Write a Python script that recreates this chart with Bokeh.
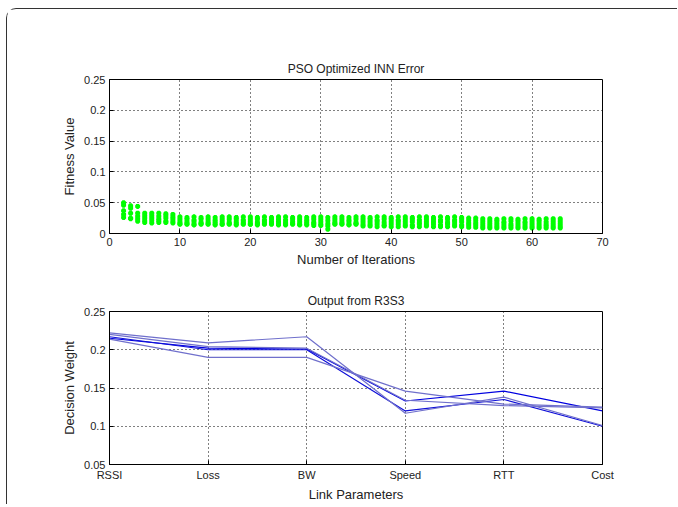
from bokeh.plotting import figure
from bokeh.layouts import column
from bokeh.models import FixedTicker, ColumnDataSource
from bokeh.embed import file_html
from bokeh.resources import INLINE

# ---------------- data ----------------
iterations = list(range(2, 65))

particle_1 = [0.050, 0.045, 0.044,
              0.033, 0.033, 0.033, 0.032, 0.031,
              0.027, 0.026, 0.027, 0.026, 0.027, 0.026, 0.027, 0.027, 0.026, 0.027, 0.027,
              0.026, 0.027, 0.026, 0.027, 0.027, 0.026, 0.027, 0.026, 0.027, 0.027,
              0.026,
              0.027, 0.027, 0.026, 0.027,
              0.027, 0.026, 0.027, 0.027, 0.026, 0.027, 0.027, 0.026, 0.027, 0.027,
              0.026, 0.027, 0.026, 0.027, 0.026, 0.025, 0.025,
              0.024, 0.024, 0.023, 0.024, 0.024, 0.023, 0.024, 0.024, 0.023, 0.024, 0.024, 0.024]
particle_2 = [0.046, 0.041, 0.033,
              0.029, 0.029, 0.028, 0.029, 0.027,
              0.023, 0.023, 0.022, 0.023, 0.023, 0.022, 0.023, 0.023, 0.023, 0.022, 0.023,
              0.023, 0.022, 0.023, 0.023, 0.022, 0.023, 0.023, 0.022, 0.023, 0.023,
              0.021,
              0.023, 0.023, 0.022, 0.023,
              0.023, 0.023, 0.022, 0.023, 0.023, 0.022, 0.023, 0.023, 0.022, 0.023,
              0.023, 0.022, 0.023, 0.022, 0.023, 0.021, 0.021,
              0.020, 0.020, 0.020, 0.019, 0.020, 0.020, 0.019, 0.020, 0.020, 0.019, 0.020, 0.020]
particle_3 = [0.037, 0.033, 0.028,
              0.025, 0.025, 0.024, 0.025, 0.024,
              0.019, 0.019, 0.019, 0.018, 0.019, 0.019, 0.019, 0.018, 0.019, 0.019, 0.019,
              0.018, 0.019, 0.019, 0.019, 0.018, 0.019, 0.019, 0.019, 0.018, 0.019,
              0.016,
              0.019, 0.019, 0.019, 0.018,
              0.019, 0.019, 0.019, 0.018, 0.019, 0.019, 0.019, 0.019, 0.018, 0.019,
              0.019, 0.019, 0.018, 0.019, 0.019, 0.017, 0.017,
              0.016, 0.016, 0.016, 0.016, 0.015, 0.016, 0.016, 0.016, 0.016, 0.015, 0.016, 0.016]
particle_4 = [0.031, 0.025, 0.024,
              0.021, 0.021, 0.021, 0.020, 0.020,
              0.016, 0.016, 0.015, 0.016, 0.016, 0.016, 0.015, 0.016, 0.016, 0.016, 0.015,
              0.016, 0.016, 0.016, 0.015, 0.016, 0.016, 0.015, 0.016, 0.016, 0.015,
              0.012,
              0.016, 0.016, 0.015, 0.016,
              0.015, 0.015, 0.015, 0.014, 0.015, 0.015, 0.015, 0.014, 0.015, 0.015,
              0.015, 0.014, 0.015, 0.015, 0.014, 0.014, 0.014,
              0.012, 0.012, 0.012, 0.012, 0.012, 0.012, 0.012, 0.012, 0.012, 0.012, 0.012, 0.012]
particle_5 = [0.026, 0.024, 0.020,
              0.018, 0.017, 0.018, 0.018, 0.017,
              0.015, 0.015, 0.014, 0.015, 0.015, 0.014, 0.015, 0.015, 0.014, 0.015, 0.015,
              0.014, 0.015, 0.015, 0.014, 0.014, 0.015, 0.014, 0.014, 0.013, 0.013,
              0.007,
              0.015, 0.015, 0.014, 0.015,
              0.012, 0.012, 0.011, 0.012, 0.011, 0.011, 0.012, 0.011, 0.011, 0.012,
              0.011, 0.011, 0.011, 0.012, 0.011, 0.010, 0.010,
              0.009, 0.009, 0.009, 0.009, 0.009, 0.009, 0.009, 0.009, 0.009, 0.009, 0.009, 0.009]
particles = [particle_1, particle_2, particle_3, particle_4, particle_5]

link_params = ["RSSI", "Loss", "BW", "Speed", "RTT", "Cost"]
run_a = [0.215, 0.202, 0.201, 0.133, 0.146, 0.120]
run_b = [0.217, 0.200, 0.200, 0.120, 0.135, 0.100]
run_c = [0.222, 0.209, 0.217, 0.117, 0.138, 0.101]
run_d = [0.214, 0.190, 0.190, 0.146, 0.129, 0.125]
run_e = [0.220, 0.204, 0.202, 0.134, 0.127, 0.124]
runs = [run_a, run_b, run_c, run_d, run_e]
run_colors = ["#0000e0", "#1010d8", "#7070cc", "#7070cc", "#7070cc"]

top_xticks = [0, 10, 20, 30, 40, 50, 60, 70]
top_yticks = [0, 0.05, 0.1, 0.15, 0.2, 0.25]
top_ylabels = ["0", "0.05", "0.1", "0.15", "0.2", "0.25"]
bot_yticks = [0.05, 0.1, 0.15, 0.2, 0.25]
bot_ylabels = ["0.05", "0.1", "0.15", "0.2", "0.25"]

FONT = "Liberation Sans"


def style(p):
    p.outline_line_color = "black"
    p.outline_line_width = 1
    p.title.text_font = FONT
    p.title.text_font_style = "normal"
    p.title.text_font_size = "12px"
    p.title.text_color = "#222222"
    p.title.align = "center"
    p.title.standoff = 8
    for ax in (p.xaxis[0], p.yaxis[0]):
        ax.axis_line_color = "black"
        ax.major_tick_in = 4
        ax.major_tick_out = 0
        ax.minor_tick_line_color = None
        ax.major_tick_line_color = "black"
        ax.major_label_text_font = FONT
        ax.major_label_text_font_size = "11px"
        ax.major_label_text_color = "#222222"
        ax.axis_label_text_font = FONT
        ax.axis_label_text_font_size = "13px"
        ax.axis_label_text_font_style = "normal"
        ax.axis_label_text_color = "#222222"
    p.xaxis[0].major_label_standoff = 4
    p.xaxis[0].axis_label_standoff = 3
    p.yaxis[0].major_label_standoff = 4
    p.yaxis[0].axis_label_standoff = 4
    for g in (p.xgrid[0], p.ygrid[0]):
        g.grid_line_color = "black"
        g.grid_line_dash = "1 3"
        g.grid_line_width = 1
    p.background_fill_color = "white"
    p.border_fill_color = "white"


# ---------------- top plot ----------------
p1 = figure(frame_width=493, frame_height=154,
            x_range=(0, 70), y_range=(0, 0.25),
            title="PSO Optimized INN Error",
            x_axis_label="Number of Iterations", y_axis_label="Fitness Value",
            output_backend="svg", toolbar_location=None,
            min_border_left=102, min_border_right=75,
            min_border_top=70, min_border_bottom=45)
style(p1)
p1.xaxis[0].ticker = FixedTicker(ticks=top_xticks)
p1.yaxis[0].ticker = FixedTicker(ticks=top_yticks)
p1.yaxis[0].major_label_overrides = {t: l for t, l in zip(top_yticks, top_ylabels)}

for vals in particles:
    src = ColumnDataSource(dict(x=iterations, y=vals))
    p1.scatter("x", "y", source=src, marker="asterisk", size=5,
               line_color="#00ff00", line_width=2)

# ---------------- bottom plot ----------------
positions = list(range(1, len(link_params) + 1))
p2 = figure(frame_width=493, frame_height=153,
            x_range=(1, 6), y_range=(0.05, 0.25),
            title="Output from R3S3",
            x_axis_label="Link Parameters", y_axis_label="Decision Weight",
            output_backend="svg", toolbar_location=None,
            min_border_left=102, min_border_right=75,
            min_border_top=33, min_border_bottom=35)
style(p2)
p2.xaxis[0].ticker = FixedTicker(ticks=positions)
p2.xaxis[0].major_label_overrides = {i: n for i, n in zip(positions, link_params)}
p2.yaxis[0].ticker = FixedTicker(ticks=bot_yticks)
p2.yaxis[0].major_label_overrides = {t: l for t, l in zip(bot_yticks, bot_ylabels)}

for vals, col in zip(runs, run_colors):
    p2.line(positions, vals, line_color=col, line_width=1.2)

layout = column(p1, p2, spacing=0,
                styles={"border-left": "1px solid #333",
                        "border-top": "1px solid #333",
                        "border-top-left-radius": "10px",
                        "margin-left": "6px",
                        "margin-top": "8px",
                        "background-color": "white"})

open("out.html", "w").write(file_html(layout, INLINE))
